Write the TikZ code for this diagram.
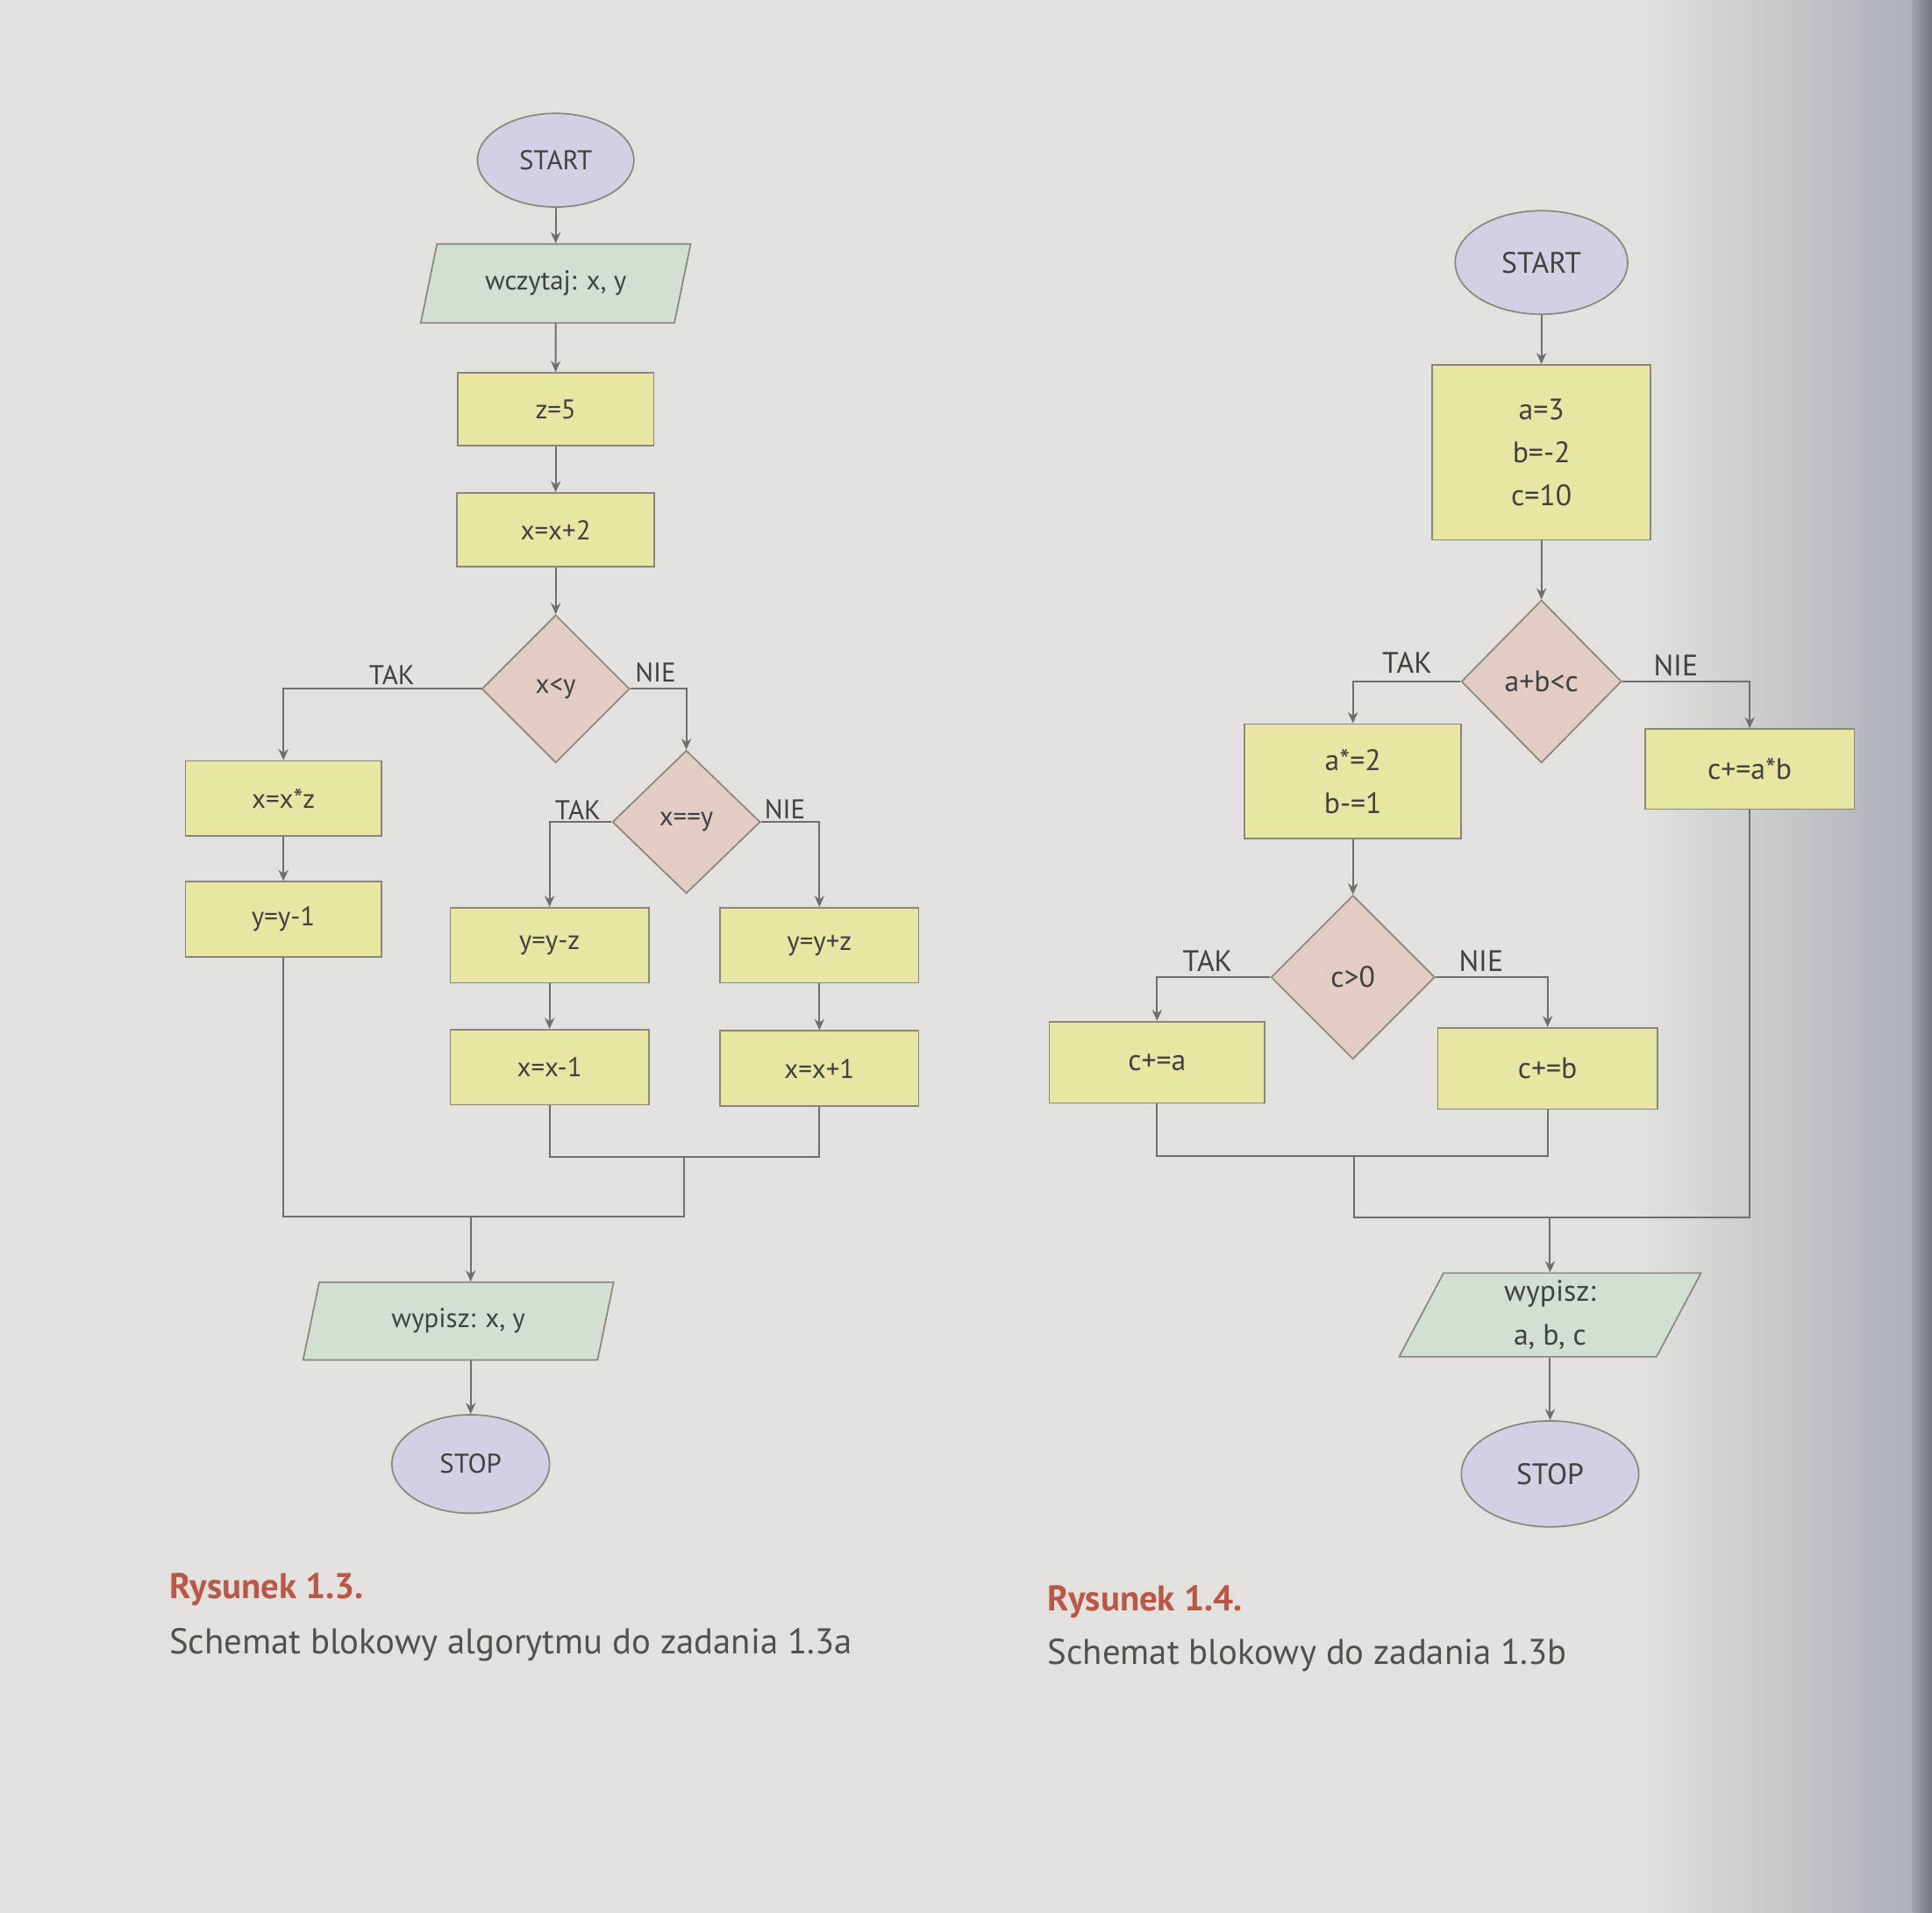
\documentclass[tikz,border=0pt]{standalone}
\usepackage{fontspec}
\setmainfont{PT Sans}
\usetikzlibrary{shapes.geometric,arrows.meta}
\definecolor{bg}{RGB}{226,225,221}
\definecolor{shadeR}{RGB}{172,176,184}
\definecolor{edgeL}{RGB}{160,164,173}
\definecolor{edgeR}{RGB}{115,119,130}
\definecolor{bordc}{RGB}{135,135,125}
\definecolor{linec}{RGB}{110,110,110}
\definecolor{txt}{RGB}{65,65,65}
\definecolor{termc}{RGB}{214,206,226}
\definecolor{ioc}{RGB}{210,224,212}
\definecolor{procc}{RGB}{231,231,163}
\definecolor{decc}{RGB}{226,204,195}
\definecolor{capred}{RGB}{185,88,72}
\definecolor{captxt}{RGB}{80,80,80}
\begin{document}
\begin{tikzpicture}[x=0.5pt,y=-0.5pt,
  box/.style={draw=bordc, line width=0.6pt, inner sep=0pt, text=txt, align=center, font=\fontsize{11}{16}\selectfont},
  big/.style={font=\fontsize{12}{17.5}\selectfont},
  term/.style={box, ellipse, fill=termc},
  io/.style={box, trapezium, trapezium left angle=57, trapezium right angle=123, trapezium stretches body, fill=ioc},
  proc/.style={box, rectangle, fill=procc},
  dec/.style={box, diamond, fill=decc},
  sz/.style 2 args={minimum width=#1*0.5pt, minimum height=#2*0.5pt},
  conn/.style={draw=linec, line width=0.7pt},
  arr/.style={conn, -{Stealth[length=4.5pt,width=4pt]}},
  lab/.style={text=txt, inner sep=0pt, font=\fontsize{11}{13}\selectfont},
  labbig/.style={lab, font=\fontsize{12}{14}\selectfont},
  captitle/.style={anchor=west, inner sep=0pt, text=capred, font=\fontsize{14.5}{17}\selectfont\bfseries},
  capbody/.style={anchor=west, inner sep=0pt, text=captxt, font=\fontsize{14.5}{17}\selectfont}
]
\fill[bg] (0,0) rectangle (1568,1552);
\shade[left color=bg, right color=shadeR] (1330,0) rectangle (1552,1552);
\shade[left color=edgeL, right color=edgeR] (1552,0) rectangle (1568,1552);
\useasboundingbox (0,0) rectangle (1568,1552);

% ---------- left diagram ----------
\node[term, sz={127}{76}] (s1) at (451,130) {START};
\node[io, sz={219}{64}] (r1) at (451,230) {wczytaj: x, y};
\node[proc, sz={159}{59}] (p1) at (451,332) {z=5};
\node[proc, sz={160}{60}] (p2) at (451,430) {x=x+2};
\node[dec, sz={120}{120}] (d1) at (451,559) {x<y};
\node[proc, sz={159}{61}] (p3) at (230,648) {x=x*z};
\node[proc, sz={159}{61}] (p4) at (230,746) {y=y-1};
\node[dec, sz={120}{116}] (d2) at (557,667) {x==y};
\node[proc, sz={161}{61}] (p5) at (446,767) {y=y-z};
\node[proc, sz={161}{61}] (p6) at (665,767) {y=y+z};
\node[proc, sz={161}{61}] (p7) at (446,866) {x=x-1};
\node[proc, sz={161}{61}] (p8) at (665,867) {x=x+1};
\node[io, sz={252}{63}] (o1) at (372,1072) {wypisz: x, y};
\node[term, sz={128}{80}] (e1) at (382,1188) {STOP};

\node[lab] (t1) at (318,548) {TAK};
\node[lab] (n1) at (532,546) {NIE};
\node[lab] (t2) at (469,657) {TAK};
\node[lab] (n2) at (637,657) {NIE};

\coordinate (j1) at (555,939);
\coordinate (j2) at (382,987);

\draw[arr] (s1) -- (r1);
\draw[arr] (r1) -- (p1);
\draw[arr] (p1) -- (p2);
\draw[arr] (p2) -- (d1);
\draw[arr] (d1.west) -| (p3.north);
\draw[arr] (d1.east) -| (d2.north);
\draw[arr] (p3) -- (p4);
\draw[arr] (d2.west) -| (p5.north);
\draw[arr] (d2.east) -| (p6.north);
\draw[arr] (p5) -- (p7);
\draw[arr] (p6) -- (p8);
\draw[conn] (p7.south) |- (j1) -| (p8.south);
\draw[conn] (p4.south) |- (j2) -| (j1);
\draw[arr] (j2) -- (j2 |- o1.north);
\draw[arr] (o1.south -| e1) -- (e1);

% ---------- right diagram ----------
\node[term, big, sz={140}{84}] (s2) at (1251,213) {START};
\node[proc, big, sz={177}{142}] (p9) at (1251,367) {a=3\\b=-2\\c=10};
\node[dec, big, sz={130}{132}] (d3) at (1251,553) {a+b<c};
\node[proc, big, sz={176}{93}] (p10) at (1098,634) {a*=2\\b-=1};
\node[proc, big, sz={170}{65}] (p11) at (1420,624) {c+=a*b};
\node[dec, big, sz={133}{133}] (d4) at (1098,793) {c>0};
\node[proc, big, sz={175}{66}] (p12) at (939,862) {c+=a};
\node[proc, big, sz={178}{66}] (p13) at (1256,867) {c+=b};
\node[io, big, sz={245}{68}] (o2) at (1258,1067) {wypisz:\\a, b, c};
\node[term, big, sz={144}{86}] (e2) at (1258,1196) {STOP};

\node[labbig] (t3) at (1142,538) {TAK};
\node[labbig] (n3) at (1360,540) {NIE};
\node[labbig] (t4) at (980,780) {TAK};
\node[labbig] (n4) at (1202,780) {NIE};

\coordinate (j3) at (1099,938);
\coordinate (j4) at (1258,988);

\draw[arr] (s2) -- (p9);
\draw[arr] (p9) -- (d3);
\draw[arr] (d3.west) -| (p10.north);
\draw[arr] (d3.east) -| (p11.north);
\draw[arr] (p10) -- (d4);
\draw[arr] (d4.west) -| (p12.north);
\draw[arr] (d4.east) -| (p13.north);
\draw[conn] (p12.south) |- (j3) -| (p13.south);
\draw[conn] (j3) |- (j4) -| (p11.south);
\draw[arr] (j4) -- (j4 |- o2.north);
\draw[arr] (o2.south -| e2) -- (e2);

% ---------- captions ----------
\node[captitle] (c1) at (137,1290) {Rysunek 1.3.};
\node[capbody] (c2) at (137,1335) {Schemat blokowy algorytmu do zadania 1.3a};
\node[captitle] (c3) at (850,1300) {Rysunek 1.4.};
\node[capbody] (c4) at (850,1343) {Schemat blokowy do zadania 1.3b};
\end{tikzpicture}
\end{document}
